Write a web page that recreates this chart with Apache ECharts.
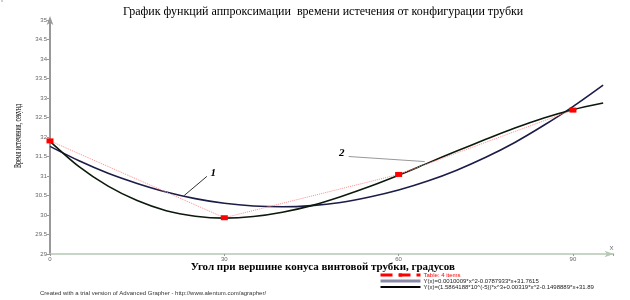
<!DOCTYPE html>
<html lang="ru">
<head>
<meta charset="UTF-8">
<title>График функций аппроксимации</title>
<script src="https://cdn.jsdelivr.net/npm/echarts@6/dist/echarts.min.js"></script>
<style>
    html, body { margin: 0; width: 100%; height: 100%; background: #fff; }
    #chart { width: 630px; height: 300px; }
</style>
</head>
<body>
<div id="chart"></div>
<script>
    // табличные точки
    var tableX = [0, 30, 60, 90];
    var tableY = [31.9, 29.93, 31.04, 32.69];
    // точки кривых
    var curveX = [0, 5, 10, 15, 20, 25, 30, 35, 40, 45, 50, 55, 60, 65, 70, 75, 80, 85, 90, 95.2];
    var quadY = [31.76, 31.39, 31.07, 30.81, 30.59, 30.42, 30.30, 30.23, 30.21, 30.24,
                 30.32, 30.46, 30.64, 30.87, 31.15, 31.48, 31.86, 32.30, 32.78, 33.33];
    var cubicY = [31.89, 31.24, 30.74, 30.37, 30.11, 29.97, 29.92, 29.96, 30.07, 30.24,
                  30.47, 30.73, 31.02, 31.33, 31.64, 31.94, 32.23, 32.49, 32.70, 32.87];
    var xTicks = [0, 30, 60, 90];
    var yTicks = [29, 29.5, 30, 30.5, 31, 31.5, 32, 32.5, 33, 33.5, 34, 34.5, 35];
    var seriesNames = [
        'Table: 4 items',
        'Y(x)=0.0010009*x^2-0.0787933*x+31.7615',
        'Y(x)=(1.5864188*10^(-5))*x^3+0.00319*x^2-0.1498889*x+31.89'
    ];

    function pairs(xs, ys) {
        return xs.map(function (x, i) { return [x, ys[i]]; });
    }

    var chart = echarts.init(document.getElementById('chart'));
    var option = {
        animation: false,
        backgroundColor: '#fff',
        title: {
            text: 'График функций аппроксимации  времени истечения от конфигурации трубки',
            left: 118,
            top: 1,
            textStyle: { fontFamily: 'Liberation Serif', fontSize: 12, fontWeight: 'normal', color: '#000' }
        },
        legend: {
            orient: 'vertical',
            left: 374,
            top: 267,
            itemWidth: 40,
            itemHeight: 4,
            itemGap: 0,
            textStyle: { fontFamily: 'Liberation Sans', fontSize: 6, lineHeight: 6, color: '#222', padding: [0, 0, 0, -2] },
            data: [
                { name: seriesNames[0], textStyle: { color: '#ff0000' },
                  lineStyle: { width: 3, type: 'dashed', color: '#ff0000' } },
                { name: seriesNames[1], lineStyle: { width: 3, color: '#8a8aa8' }, itemStyle: { opacity: 0 } },
                { name: seriesNames[2], lineStyle: { width: 2, color: '#000' }, itemStyle: { opacity: 0 } }
            ]
        },
        grid: { left: 50, right: 16.4, top: 20, bottom: 46 },
        xAxis: {
            type: 'value',
            min: 0,
            max: 97,
            interval: 30,
            name: 'Угол при вершине конуса винтовой трубки, градусов',
            nameLocation: 'middle',
            nameGap: 8,
            nameMoveOverlap: false,
            nameTextStyle: { fontFamily: 'Liberation Serif', fontSize: 11, fontWeight: 'bold', color: '#000', padding: [0, 18, 0, 0] },
            axisLine: { lineStyle: { color: '#b4c8b4', width: 1.5 }, symbol: ['none', 'arrow'], symbolSize: [5, 9] },
            axisTick: { show: true, length: 2, inside: false, lineStyle: { color: '#999' } },
            axisLabel: {
                fontSize: 6, color: '#666', margin: 2,
                formatter: function (v) { return xTicks.indexOf(v) >= 0 ? String(v) : ''; }
            },
            splitLine: { show: false }
        },
        yAxis: {
            type: 'value',
            min: yTicks[0],
            max: yTicks[yTicks.length - 1],
            interval: 0.5,
            axisLine: { show: true, lineStyle: { color: '#999', width: 2 }, symbol: ['none', 'arrow'], symbolSize: [5, 9], symbolOffset: [0, 4] },
            axisTick: { show: true, length: 3, lineStyle: { color: '#999' } },
            axisLabel: { fontSize: 6, color: '#666', margin: 3 },
            splitLine: { show: false }
        },
        series: [
            {
                name: seriesNames[0],
                type: 'line',
                data: pairs(tableX, tableY),
                symbol: 'rect',
                symbolSize: [7, 5],
                itemStyle: { color: '#ff0000' },
                lineStyle: { color: '#ff8c8c', width: 1, type: 'dotted' },
                z: 5
            },
            {
                name: seriesNames[1],
                type: 'line',
                data: pairs(curveX, quadY),
                smooth: 0.3,
                showSymbol: false,
                symbol: 'none',
                itemStyle: { color: '#1c1c48' },
                lineStyle: { color: '#1c1c48', width: 1.6 },
                z: 3
            },
            {
                name: seriesNames[2],
                type: 'line',
                data: pairs(curveX, cubicY),
                smooth: 0.3,
                showSymbol: false,
                symbol: 'none',
                itemStyle: { color: '#0c1a0c' },
                lineStyle: { color: '#0c1a0c', width: 1.6 },
                z: 4
            }
        ]
    };
    chart.setOption(option);

    // подписи кривых 1 и 2 (в координатах данных)
    var notes = [
        { text: '1', at: [28.1, 31.08], from: [23.1, 30.5], to: [27.0, 30.99], color: '#333' },
        { text: '2', at: [50.2, 31.59], from: [51.4, 31.5], to: [64.5, 31.37], color: '#999' }
    ];
    var gr = [];
    notes.forEach(function (n) {
        var p = chart.convertToPixel({ gridIndex: 0 }, n.at);
        var a = chart.convertToPixel({ gridIndex: 0 }, n.from);
        var b = chart.convertToPixel({ gridIndex: 0 }, n.to);
        gr.push({
            type: 'line', shape: { x1: a[0], y1: a[1], x2: b[0], y2: b[1] },
            style: { stroke: n.color, lineWidth: 1 }
        });
        gr.push({
            type: 'text', x: p[0], y: p[1],
            style: { text: n.text, fill: '#000', font: 'italic bold 11px "Liberation Serif"', align: 'center', verticalAlign: 'middle' }
        });
    });
    var top = chart.convertToPixel({ gridIndex: 0 }, [0, 35]);
    var right = chart.convertToPixel({ gridIndex: 0 }, [97, 29]);
    gr.push({
        type: 'text', x: top[0] + 4, y: top[1] - 3,
        style: { text: 'Y', fill: '#666', font: '6px "Liberation Sans"', align: 'left', verticalAlign: 'middle' }
    });
    gr.push({
        type: 'text', x: right[0] - 2, y: right[1] - 6,
        style: { text: 'X', fill: '#666', font: '6px "Liberation Sans"', align: 'center', verticalAlign: 'middle' }
    });
    gr.push({
        type: 'text', x: 18, y: 136, rotation: Math.PI / 2, scaleX: 0.6,
        style: { text: 'Время истечения, секунд', fill: '#000', font: '10px "Liberation Serif"', align: 'center', verticalAlign: 'middle' }
    });
    gr.push({
        type: 'text', x: 40, y: 293,
        style: { text: 'Created with a trial version of Advanced Grapher - http://www.alentum.com/agrapher/', fill: '#333', font: '6px "Liberation Sans"', align: 'left', verticalAlign: 'middle' }
    });
    chart.setOption({ graphic: gr });
</script>
</body>
</html>
